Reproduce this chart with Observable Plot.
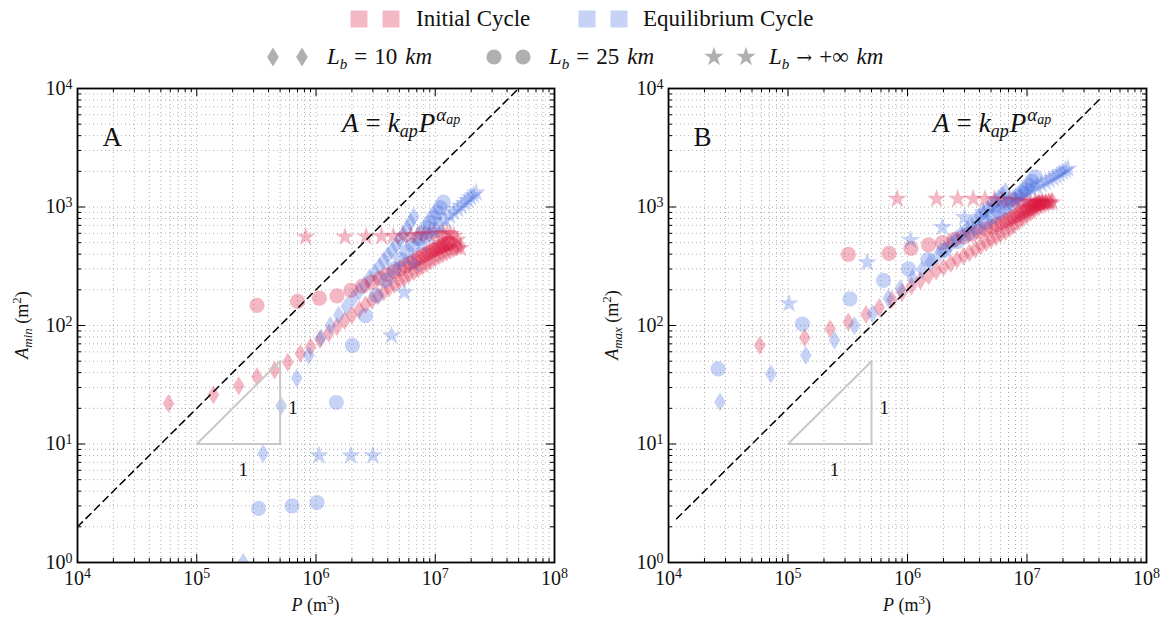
<!DOCTYPE html>
<html><head><meta charset="utf-8">
<script src="https://cdn.jsdelivr.net/npm/d3@7"></script>
<script src="https://cdn.jsdelivr.net/npm/@observablehq/plot@0.6"></script>
<style>
html,body{margin:0;padding:0;background:#fff;}
#page{position:relative;width:1163px;height:619px;overflow:hidden;background:#fff;font-family:"Liberation Serif","DejaVu Serif",serif;color:#111;}
#legend{position:absolute;left:0;top:0;width:1163px;height:75px;}
.item{position:absolute;height:30px;line-height:30px;white-space:nowrap;font-size:23px;}
.item .sb{position:relative;top:5px;font-size:15px;font-style:italic;}
.item .op{margin:0 7px;}
.item .num{margin-right:8px;}
.sw{position:absolute;}
#panelA{position:absolute;left:0;top:75px;}
#panelB{position:absolute;left:590px;top:75px;}
</style></head>
<body><div id="page"><div id="legend"></div><div id="panelA"></div><div id="panelB"></div></div>
<script>
// ---------------- DATA ----------------
// Initial cycle, Lb = 10 km (diamonds)
const P_init_10 = [5.8e4,1.38e5,2.25e5,3.2e5,4.5e5,5.8e5,7.4e5,9.0e5,1.08e6,1.28e6,1.50e6,1.74e6,2.0e6,2.3e6,2.6e6,2.95e6,3.3e6,3.7e6,4.1e6,4.55e6,5.0e6,5.5e6,6.0e6,6.6e6,7.2e6,7.8e6,8.5e6,9.2e6,1.0e7,1.08e7,1.16e7,1.25e7,1.34e7,1.43e7,1.52e7,1.62e7];
const Amin_init_10 = [22,26,31,37,42,49,58,66,76,86,98,110,122,136,150,163,177,192,207,222,237,252,268,284,300,316,333,350,367,385,400,415,430,445,458,470];
const Amax_init_10 = [68,79,94,107,124,142,165,190,215,240,262,288,310,335,360,385,410,440,470,500,530,560,590,620,660,700,750,800,850,900,950,1000,1040,1070,1100,1120];
// Equilibrium cycle, Lb = 10 km (diamonds)
const P_eq_10 = [2.7e4,7.2e4,1.41e5,2.45e5,3.6e5,5.1e5,6.9e5,8.7e5,1.1e6,1.32e6,1.55e6,1.8e6,2.05e6,2.3e6,2.55e6,2.8e6,3.1e6,3.4e6,3.7e6,4.0e6,4.35e6,4.7e6,5.05e6,5.4e6,5.8e6,6.2e6,6.6e6];
const Amin_eq_10 = [null,null,null,1.0,8.3,21,36,56,79,100,122,145,170,195,220,250,280,315,350,390,430,480,530,590,660,740,830];
const Amax_eq_10 = [22.6,39,56,75,100,126,170,205,250,295,340,390,440,490,540,590,650,710,770,830,900,970,1040,1110,1190,1270,1350];
// Initial cycle, Lb = 25 km (circles)
const P_init_25 = [3.2e5,7.0e5,1.07e6,1.5e6,1.96e6,2.45e6,2.95e6,3.45e6,3.95e6,4.5e6,5.05e6,5.6e6,6.15e6,6.7e6,7.25e6,7.8e6,8.35e6,8.9e6,9.45e6,1.0e7,1.055e7,1.11e7,1.165e7,1.22e7,1.275e7,1.33e7];
const Amin_init_25 = [148,160,170,178,198,215,232,250,268,285,302,320,337,353,370,385,400,415,428,440,452,463,473,482,490,498];
const Amax_init_25 = [398,407,447,480,500,530,560,590,620,650,680,710,740,770,800,830,860,890,920,950,980,1010,1040,1060,1080,1100];
// Equilibrium cycle, Lb = 25 km (circles)
const P_eq_25 = [2.6e4,1.32e5,3.3e5,6.3e5,1.02e6,1.48e6,2.02e6,2.6e6,3.2e6,3.85e6,4.5e6,5.15e6,5.8e6,6.45e6,7.1e6,7.75e6,8.4e6,9.05e6,9.7e6,1.035e7,1.1e7,1.17e7];
const Amin_eq_25 = [null,null,2.86,3.0,3.2,22.4,68,121,179,240,300,360,420,480,540,600,670,740,820,900,990,1100];
const Amax_eq_25 = [43,103,168,240,301,360,430,510,590,670,750,830,910,990,1070,1150,1230,1320,1420,1530,1650,1800];
// Initial cycle, Lb -> +inf (stars)
const P_init_inf = [8.2e5,1.75e6,2.63e6,3.55e6,4.45e6,5.35e6,6.25e6,7.15e6,8.05e6,8.95e6,9.85e6,1.075e7,1.165e7,1.255e7,1.345e7,1.435e7,1.525e7,1.62e7];
const Amin_init_inf = [560,560,562,565,568,570,575,580,585,590,595,598,600,598,590,570,530,450];
const Amax_init_inf = [1170,1170,1170,1170,1165,1160,1150,1140,1130,1120,1110,1100,1100,1095,1090,1090,1090,1090];
// Equilibrium cycle, Lb -> +inf (stars)
const P_eq_inf = [1.02e5,4.6e5,1.06e6,1.96e6,3.0e6,4.3e6,5.5e6,6.6e6,7.7e6,8.8e6,9.9e6,1.1e7,1.21e7,1.32e7,1.43e7,1.54e7,1.65e7,1.76e7,1.87e7,1.98e7,2.09e7,2.2e7];
const Amin_eq_inf = [null,null,8,8,8,82,190,330,480,560,630,700,770,840,900,960,1020,1080,1140,1200,1260,1320];
const Amax_eq_inf = [153,340,525,675,815,900,1000,1080,1160,1240,1320,1400,1480,1550,1620,1690,1760,1830,1900,1970,2040,2100];

// Fit line A = k_ap P^alpha_ap (end points) and slope triangle
const fitLineA = [[1e4, 2], [5e7, 1e4]];
const fitLineB = [[1.17e4, 2.34], [4.1e7, 8200]];
const slopeTriangle = [[1e5, 10], [5e5, 10], [5e5, 50], [1e5, 10]];
const triangleLabels = [{P: 6.4e5, A: 20, t: "1"}, {P: 2.45e5, A: 6.0, t: "1"}];

// Axis ticks
const xMajor = [1e4, 1e5, 1e6, 1e7, 1e8];
const yMajor = [1, 10, 100, 1000, 10000];
const minorMult = [2, 3, 4, 5, 6, 7, 8, 9];

// ---------------- BUILD ----------------
const FONT = '"Liberation Serif", "DejaVu Serif", serif';
const pink = "crimson", blue = "royalblue";
// thin diamond (matplotlib 'd'): width = 0.62 x height
const thinDiamond = {
  draw(ctx, size) {
    const r = Math.sqrt(size / Math.PI), h = 1.6 * r, w = 0.62 * h;
    ctx.moveTo(0, -h); ctx.lineTo(w, 0); ctx.lineTo(0, h); ctx.lineTo(-w, 0); ctx.closePath();
  }
};
const symbols = {diamond: thinDiamond, circle: d3.symbolCircle, star: d3.symbolStar};
const symR = {diamond: 5.9, circle: 7.6, star: 6.1};
const xMinor = xMajor.slice(0, -1).flatMap(d => minorMult.map(m => m * d));
const yMinor = yMajor.slice(0, -1).flatMap(d => minorMult.map(m => m * d));
const expFmt = d => "10^" + Math.round(Math.log10(d));

function rows(P, A) { return P.map((p, i) => ({P: p, A: A[i]})).filter(d => d.A != null); }

const seriesDefs = [
  {P: P_init_10, min: Amin_init_10, max: Amax_init_10, color: pink, sym: "diamond"},
  {P: P_eq_10,   min: Amin_eq_10,   max: Amax_eq_10,   color: blue, sym: "diamond"},
  {P: P_init_25, min: Amin_init_25, max: Amax_init_25, color: pink, sym: "circle"},
  {P: P_eq_25,   min: Amin_eq_25,   max: Amax_eq_25,   color: blue, sym: "circle"},
  {P: P_init_inf,min: Amin_init_inf,max: Amax_init_inf,color: pink, sym: "star"},
  {P: P_eq_inf,  min: Amin_eq_inf,  max: Amax_eq_inf,  color: blue, sym: "star"}
];

const H = 544, innerH = 474;
function panel(which) {
  const isA = which === "A";
  const W = isA ? 590 : 573;
  const mL = isA ? 77 : 78, mR = isA ? 36 : 17;
  const W_in = W - mL - mR;
  const gridStyle = {stroke: "#999", strokeWidth: 0.8, strokeDasharray: "1,3"};
  const marks = [
    Plot.ruleX(xMinor.concat(xMajor), gridStyle),
    Plot.ruleY(yMinor.concat(yMajor), gridStyle)
  ];
  for (const s of seriesDefs) {
    marks.push(Plot.dot(rows(s.P, isA ? s.min : s.max), {
      x: "P", y: "A", symbol: symbols[s.sym], r: symR[s.sym], fill: s.color, fillOpacity: 0.3, stroke: "none", clip: true
    }));
  }
  marks.push(Plot.line(isA ? fitLineA : fitLineB, {x: d => d[0], y: d => d[1], stroke: "black", strokeWidth: 1.5, strokeDasharray: "7,5", clip: true}));
  marks.push(Plot.line(slopeTriangle, {x: d => d[0], y: d => d[1], stroke: "#c8c8c8", strokeWidth: 2}));
  marks.push(Plot.text(triangleLabels, {x: "P", y: "A", text: "t", fontSize: 19, fill: "#111"}));
  marks.push(Plot.frame({stroke: "black", strokeWidth: 1.8}));
  marks.push(
    Plot.ruleX(xMajor, {stroke: "black", insetTop: innerH - 8}),
    Plot.ruleX(xMajor, {stroke: "black", insetBottom: innerH - 8}),
    Plot.ruleX(xMinor, {stroke: "black", insetTop: innerH - 4}),
    Plot.ruleX(xMinor, {stroke: "black", insetBottom: innerH - 4}),
    Plot.ruleY(yMajor, {stroke: "black", insetRight: W_in - 8}),
    Plot.ruleY(yMajor, {stroke: "black", insetLeft: W_in - 8}),
    Plot.ruleY(yMinor, {stroke: "black", insetRight: W_in - 4}),
    Plot.ruleY(yMinor, {stroke: "black", insetLeft: W_in - 4})
  );
  marks.push(Plot.text([which], {frameAnchor: "top-left", textAnchor: "start", lineAnchor: "top", dx: 25, dy: 38, fontSize: 27, fill: "#111"}));
  const chart = Plot.plot({
    width: W, height: H,
    marginLeft: mL, marginRight: mR, marginTop: 13, marginBottom: 57,
    style: {fontFamily: FONT, fontSize: "20px", background: "white", color: "#111"},
    x: {type: "log", domain: [1e4, 1e8], ticks: xMajor, tickFormat: expFmt, tickSize: 0, tickPadding: 8, label: null},
    y: {type: "log", domain: [1, 1e4], ticks: yMajor, tickFormat: expFmt, tickSize: 0, tickPadding: 5, label: null},
    marks
  });
  const svg = d3.select(chart);
  // rebuild tick labels "10^k" with a real superscript
  svg.selectAll("text").each(function () {
    const m = /^10\^(\d)$/.exec(this.textContent);
    if (!m) return;
    const t = d3.select(this);
    t.text("");
    t.append("tspan").text("10");
    t.append("tspan").attr("dy", "-0.45em").attr("font-size", "0.7em").text(m[1]);
  });
  // formula
  const f = svg.append("text").attr("x", mL + 265).attr("y", 57).attr("text-anchor", "start")
    .attr("font-family", FONT).attr("font-size", 27).attr("fill", "#111");
  f.append("tspan").attr("font-style", "italic").text("A");
  f.append("tspan").attr("dx", 7).text("=");
  f.append("tspan").attr("dx", 7).attr("font-style", "italic").text("k");
  f.append("tspan").attr("font-style", "italic").attr("font-size", 18).attr("dy", 5).text("ap");
  f.append("tspan").attr("font-style", "italic").attr("dy", -5).attr("dx", 1).text("P");
  f.append("tspan").attr("font-style", "italic").attr("font-size", 19).attr("dy", -11).attr("dx", 1).text("α");
  f.append("tspan").attr("font-style", "italic").attr("font-size", 14).attr("dy", 3).text("ap");
  // y label
  const yl = svg.append("text").attr("transform", `translate(28,${13 + innerH / 2}) rotate(-90)`).attr("text-anchor", "middle")
    .attr("font-family", FONT).attr("font-size", 18).attr("fill", "#111");
  yl.append("tspan").attr("font-style", "italic").text("A");
  yl.append("tspan").attr("font-style", "italic").attr("font-size", 13).attr("dy", 4).text(isA ? "min" : "max");
  yl.append("tspan").attr("dy", -4).text(" (m");
  yl.append("tspan").attr("font-size", 13).attr("dy", -7).text("2");
  yl.append("tspan").attr("dy", 7).text(")");
  // x label
  const xl = svg.append("text").attr("x", mL + W_in / 2).attr("y", 536).attr("text-anchor", "middle")
    .attr("font-family", FONT).attr("font-size", 18).attr("fill", "#111");
  xl.append("tspan").attr("font-style", "italic").text("P");
  xl.append("tspan").text(" (m");
  xl.append("tspan").attr("font-size", 13).attr("dy", -7).text("3");
  xl.append("tspan").attr("dy", 7).text(")");
  return chart;
}
document.getElementById("panelA").appendChild(panel("A"));
document.getElementById("panelB").appendChild(panel("B"));

// ---------------- LEGEND ----------------
const legend = d3.select("#legend");
function swatch(cx, cy, kind, color, r) {
  const s = legend.append("svg").attr("class", "sw").style("left", (cx - 12) + "px").style("top", (cy - 12) + "px").attr("width", 24).attr("height", 24);
  if (kind === "square") {
    s.append("rect").attr("x", 3.5).attr("y", 3.5).attr("width", 17).attr("height", 17).attr("fill", color).attr("fill-opacity", 0.3);
  } else {
    s.append("path").attr("transform", "translate(12,12)").attr("d", d3.symbol(symbols[kind], Math.PI * r * r)()).attr("fill", "#b0b0b0");
  }
}
function label(left, cy, html) {
  legend.append("div").attr("class", "item").style("left", left + "px").style("top", (cy - 15) + "px").html(html);
}
swatch(359, 19, "square", pink); swatch(391, 19, "square", pink);
label(416, 19, "Initial Cycle");
swatch(587, 19, "square", blue); swatch(619, 19, "square", blue);
label(643, 19, "Equilibrium Cycle");
swatch(273, 57, "diamond", "gray", symR.diamond); swatch(302, 57, "diamond", "gray", symR.diamond);
label(327, 57, "<i>L</i><span class='sb'>b</span><span class='op'>=</span><span class='num'>10</span><i>km</i>");
swatch(494, 57, "circle", "gray", symR.circle); swatch(523, 57, "circle", "gray", symR.circle);
label(549, 57, "<i>L</i><span class='sb'>b</span><span class='op'>=</span><span class='num'>25</span><i>km</i>");
swatch(714, 57, "star", "gray", symR.star); swatch(746, 57, "star", "gray", symR.star);
label(769, 57, "<i>L</i><span class='sb'>b</span><span class='op' style='font-family:\"DejaVu Serif\";font-size:19px'>→</span><span class='num'>+∞</span><i>km</i>");
</script></body></html>
